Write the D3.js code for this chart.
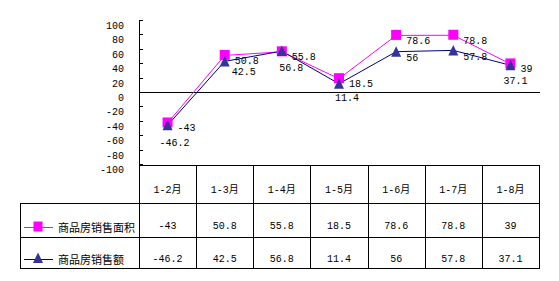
<!DOCTYPE html>
<html><head><meta charset="utf-8">
<script src="https://cdn.jsdelivr.net/npm/d3@7"></script>
<style>body{margin:0;background:#fff}</style>
</head><body>
<svg id="c" width="559" height="281"></svg>
<script>
const categories = ["1-2月","1-3月","1-4月","1-5月","1-6月","1-7月","1-8月"];
const areaValues = [-43, 50.8, 55.8, 18.5, 78.6, 78.8, 39];
const salesValues = [-46.2, 42.5, 56.8, 11.4, 56, 57.8, 37.1];
const areaLabels = ["-43","50.8","55.8","18.5","78.6","78.8","39"];
const salesLabels = ["-46.2","42.5","56.8","11.4","56","57.8","37.1"];
const seriesNames = ["商品房销售面积","商品房销售额"];
const yTicks = [100,80,60,40,20,0,-20,-40,-60,-80,-100];
// label placement (layout only): [dx to text start, dy to text middle]
const areaLabelOffset = [10, 6];
const salesLabelOffsets = [[-8,18],[7,11],[-2.5,17],[-4,15],[10,6.6],[10,7],[-7,16]];

const svg = d3.select("#c");
const numFont = "'Liberation Mono', 'DejaVu Sans Mono', monospace";
const cjkFont = "'Liberation Mono', 'Noto Sans CJK SC', sans-serif";
const nfs = 10;

const x = d3.scaleBand().domain(categories).range([139, 539]).padding(0);
const y = d3.scaleLinear().domain([-100, 100]).range([164, 20]);
const cx = c => x(c) + x.bandwidth() / 2;

// y axis
svg.append("line").attr("x1",139.5).attr("x2",139.5).attr("y1",20).attr("y2",268).attr("stroke","#000");
svg.append("g").selectAll("line").data(yTicks).join("line")
  .attr("x1",139).attr("x2",143).attr("y1",d=>Math.round(y(d))+0.5).attr("y2",d=>Math.round(y(d))+0.5).attr("stroke","#000");
svg.append("g").selectAll("text").data(yTicks).join("text")
  .attr("x",124).attr("y",d=>y(d)+6.5).attr("text-anchor","end").attr("dominant-baseline","central")
  .attr("font-family",numFont).attr("font-size",nfs).text(d=>d);
// zero line
svg.append("line").attr("x1",139).attr("x2",540).attr("y1",Math.round(y(0))+0.5).attr("y2",Math.round(y(0))+0.5).attr("stroke","#000");

// lines
const lineGen = vals => d3.line().x((d,i)=>cx(categories[i])).y(d=>y(d))(vals);
svg.append("path").attr("d",lineGen(areaValues)).attr("fill","none").attr("stroke","#FF00FF").attr("stroke-width",1);
svg.append("path").attr("d",lineGen(salesValues)).attr("fill","none").attr("stroke","#000080").attr("stroke-width",1);

// markers
svg.append("g").selectAll("rect").data(areaValues).join("rect")
  .attr("x",(d,i)=>cx(categories[i])-5).attr("y",d=>y(d)-5.5).attr("width",10).attr("height",10).attr("fill","#FF00FF");
const tri = (px,py)=>`M${px},${py-5.5}L${px+5},${py+5}L${px-5},${py+5}Z`;
svg.append("g").selectAll("path").data(salesValues).join("path")
  .attr("d",(d,i)=>tri(cx(categories[i]), y(d))).attr("fill","#333399");

// data labels
svg.append("g").selectAll("text").data(areaValues).join("text")
  .attr("x",(d,i)=>cx(categories[i])+areaLabelOffset[0]).attr("y",d=>y(d)+areaLabelOffset[1])
  .attr("dominant-baseline","central").attr("font-family",numFont).attr("font-size",nfs)
  .text((d,i)=>areaLabels[i]);
svg.append("g").selectAll("text").data(salesValues).join("text")
  .attr("x",(d,i)=>cx(categories[i])+salesLabelOffsets[i][0]).attr("y",(d,i)=>y(d)+salesLabelOffsets[i][1])
  .attr("dominant-baseline","central").attr("font-family",numFont).attr("font-size",nfs)
  .text((d,i)=>salesLabels[i]);

// table
const T = svg.append("g").attr("stroke","#000").attr("stroke-width",1);
const hl = (x1,x2,yy)=>T.append("line").attr("x1",x1).attr("x2",x2).attr("y1",yy).attr("y2",yy);
const vl = (xx,y1,y2)=>T.append("line").attr("x1",xx).attr("x2",xx).attr("y1",y1).attr("y2",y2);
hl(139,539.5,165.5); hl(20,539.5,203.5); hl(20,539.5,237.5); hl(20,539.5,268.5);
vl(20.5,203,269);
categories.forEach(c=>{ vl(Math.round(x(c)+x.bandwidth())+0.5,165,269); });

svg.append("g").selectAll("text").data(categories).join("text")
  .attr("x",d=>cx(d)).attr("y",190).attr("text-anchor","middle").attr("dominant-baseline","central")
  .attr("font-family",cjkFont).attr("font-size",nfs).text(d=>d);
svg.append("g").selectAll("text").data(areaLabels).join("text")
  .attr("x",(d,i)=>cx(categories[i])).attr("y",226).attr("text-anchor","middle").attr("dominant-baseline","central")
  .attr("font-family",numFont).attr("font-size",nfs).text(d=>d);
svg.append("g").selectAll("text").data(salesLabels).join("text")
  .attr("x",(d,i)=>cx(categories[i])).attr("y",259).attr("text-anchor","middle").attr("dominant-baseline","central")
  .attr("font-family",numFont).attr("font-size",nfs).text(d=>d);

// legend
const legY = [226.5, 259];
const legColors = ["#FF00FF","#000080"];
seriesNames.forEach((n,i)=>{
  svg.append("line").attr("x1",24).attr("x2",53).attr("y1",Math.round(legY[i])+0.5).attr("y2",Math.round(legY[i])+0.5).attr("stroke",legColors[i]);
  svg.append("text").attr("x",58).attr("y",legY[i]).attr("dominant-baseline","central")
    .attr("font-family","'Noto Sans CJK SC', sans-serif").attr("font-size",11).text(n);
});
svg.append("rect").attr("x",33.5).attr("y",221.5).attr("width",9).attr("height",10).attr("fill","#FF00FF");
svg.append("path").attr("d",tri(38,258)).attr("fill","#333399");
</script>
</body></html>
